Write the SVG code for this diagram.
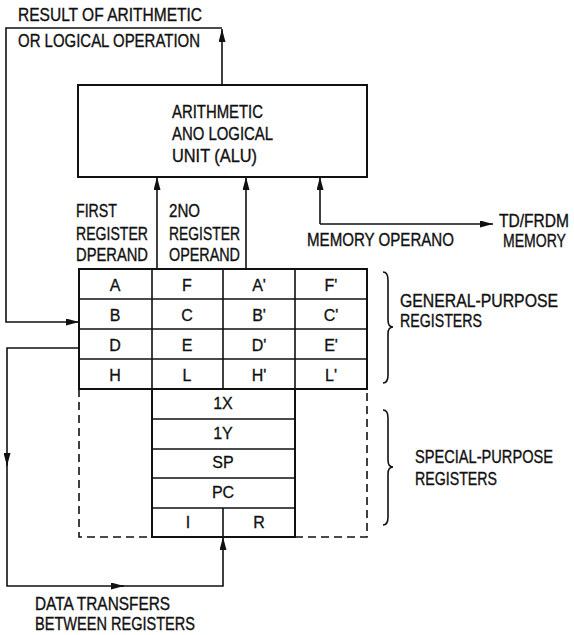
<svg xmlns="http://www.w3.org/2000/svg" width="574" height="635" viewBox="0 0 574 635">
<style>
text{font-family:"Liberation Sans",Arial,sans-serif;fill:#111;}
.lbl{font-size:15px;stroke:#111;stroke-width:0.3;}
.end{text-anchor:end;}
.cell{font-size:16px;text-anchor:middle;stroke:#111;stroke-width:0.3;}
.ln{fill:none;stroke:#111;stroke-width:1.6;}
.box{fill:none;stroke:#111;stroke-width:2;}
.dash{fill:none;stroke:#111;stroke-width:1.6;stroke-dasharray:8 5;}
</style>
<defs>
<marker id="ah" viewBox="0 0 13 7" refX="13" refY="3.5" markerUnits="userSpaceOnUse" markerWidth="13" markerHeight="7" orient="auto">
<path d="M0,0 L13,3.5 L0,7 z" fill="#111"/>
</marker>
</defs>
<rect width="574" height="635" fill="#fff"/>

<g id="result-label">
<text class="lbl" transform="translate(18,21) scale(1,1.27)" textLength="184" lengthAdjust="spacingAndGlyphs">RESULT OF ARITHMETIC</text>
<text class="lbl" transform="translate(18,47) scale(1,1.27)" textLength="182" lengthAdjust="spacingAndGlyphs">OR LOGICAL OPERATION</text>
</g>

<g id="alu">
<rect class="box" x="78" y="85" width="289" height="92"/>
<text class="lbl" transform="translate(172,118) scale(1,1.27)" textLength="91" lengthAdjust="spacingAndGlyphs">ARITHMETIC</text>
<text class="lbl" transform="translate(172,140) scale(1,1.27)" textLength="101" lengthAdjust="spacingAndGlyphs">ANO LOGICAL</text>
<text class="lbl" transform="translate(172,162) scale(1,1.27)" textLength="85" lengthAdjust="spacingAndGlyphs">UNIT (ALU)</text>
</g>

<g id="first-operand-label">
<text class="lbl" transform="translate(76,217) scale(1,1.27)" textLength="41" lengthAdjust="spacingAndGlyphs">FIRST</text>
<text class="lbl" transform="translate(76,240) scale(1,1.27)" textLength="72" lengthAdjust="spacingAndGlyphs">REGISTER</text>
<text class="lbl" transform="translate(76,261) scale(1,1.27)" textLength="72" lengthAdjust="spacingAndGlyphs">DPERAND</text>
</g>

<g id="second-operand-label">
<text class="lbl" transform="translate(169,217) scale(1,1.27)" textLength="31" lengthAdjust="spacingAndGlyphs">2NO</text>
<text class="lbl" transform="translate(169,240) scale(1,1.27)" textLength="71" lengthAdjust="spacingAndGlyphs">REGISTER</text>
<text class="lbl" transform="translate(169,261) scale(1,1.27)" textLength="71" lengthAdjust="spacingAndGlyphs">OPERAND</text>
</g>

<g id="memory-operand-label">
<text class="lbl" transform="translate(307,246) scale(1,1.27)" textLength="147" lengthAdjust="spacingAndGlyphs">MEMORY OPERANO</text>
</g>

<g id="memory-label">
<text class="lbl end" transform="translate(569,227) scale(1,1.27)" textLength="70" lengthAdjust="spacingAndGlyphs">TD/FRDM</text>
<text class="lbl end" transform="translate(566,247) scale(1,1.27)" textLength="63" lengthAdjust="spacingAndGlyphs">MEMORY</text>
</g>

<g id="general-registers">
<rect class="box" x="79" y="269" width="288" height="120"/>
<path class="ln" d="M79,299 H367 M79,329 H367 M79,359 H367 M152,269 V389 M223,269 V389 M295,269 V389"/>
<text class="cell" x="115" y="291">A</text>
<text class="cell" x="187" y="291">F</text>
<text class="cell" x="259" y="291">A'</text>
<text class="cell" x="331" y="291">F'</text>
<text class="cell" x="115" y="321">B</text>
<text class="cell" x="187" y="321">C</text>
<text class="cell" x="259" y="321">B'</text>
<text class="cell" x="331" y="321">C'</text>
<text class="cell" x="115" y="351">D</text>
<text class="cell" x="187" y="351">E</text>
<text class="cell" x="259" y="351">D'</text>
<text class="cell" x="331" y="351">E'</text>
<text class="cell" x="115" y="381">H</text>
<text class="cell" x="187" y="381">L</text>
<text class="cell" x="259" y="381">H'</text>
<text class="cell" x="331" y="381">L'</text>
</g>

<g id="special-registers">
<path class="dash" d="M79,389 V537 H152 M295,537 H367 V389"/>
<rect class="box" x="152" y="389" width="143" height="148"/>
<path class="ln" d="M152,419 H295 M152,449 H295 M152,478 H295 M152,508 H295 M223,508 V537"/>
<text class="cell" x="223" y="409">1X</text>
<text class="cell" x="223" y="439">1Y</text>
<text class="cell" x="223" y="468">SP</text>
<text class="cell" x="223" y="498">PC</text>
<text class="cell" x="188" y="528">I</text>
<text class="cell" x="259" y="528">R</text>
</g>

<g id="general-brace">
<path class="ln" d="M383,272 Q388,272 388,280 V320 Q388,327 393,327 Q388,327 388,334 V375 Q388,383 383,383"/>
<text class="lbl" transform="translate(400,307) scale(1,1.27)" textLength="158" lengthAdjust="spacingAndGlyphs">GENERAL-PURPOSE</text>
<text class="lbl" transform="translate(400,327) scale(1,1.27)" textLength="82" lengthAdjust="spacingAndGlyphs">REGISTERS</text>
</g>

<g id="special-brace">
<path class="ln" d="M383,410 Q388,410 388,418 V460 Q388,467 393,467 Q388,467 388,474 V517 Q388,525 383,525"/>
<text class="lbl" transform="translate(415,463) scale(1,1.27)" textLength="138" lengthAdjust="spacingAndGlyphs">SPECIAL-PURPOSE</text>
<text class="lbl" transform="translate(415,485) scale(1,1.27)" textLength="82" lengthAdjust="spacingAndGlyphs">REGISTERS</text>
</g>

<g id="transfer-label">
<text class="lbl" transform="translate(35,610) scale(1,1.27)" textLength="135" lengthAdjust="spacingAndGlyphs">DATA TRANSFERS</text>
<text class="lbl" transform="translate(35,630) scale(1,1.27)" textLength="160" lengthAdjust="spacingAndGlyphs">BETWEEN REGISTERS</text>
</g>

<g id="connectors">
<path class="ln" d="M222,85 V29" marker-end="url(#ah)"/>
<path class="ln" d="M222,28 H6 V322 H79" marker-end="url(#ah)"/>
<path class="ln" d="M157,269 V177" marker-end="url(#ah)"/>
<path class="ln" d="M246,269 V177" marker-end="url(#ah)"/>
<path class="ln" d="M320,224 V177" marker-end="url(#ah)"/>
<path class="ln" d="M320,224 H493" marker-end="url(#ah)"/>
<path class="ln" d="M79,348 H7 V466" marker-end="url(#ah)"/>
<path class="ln" d="M7,460 V586 H124" marker-end="url(#ah)"/>
<path class="ln" d="M118,586 H223 V537" marker-end="url(#ah)"/>
</g>
</svg>
